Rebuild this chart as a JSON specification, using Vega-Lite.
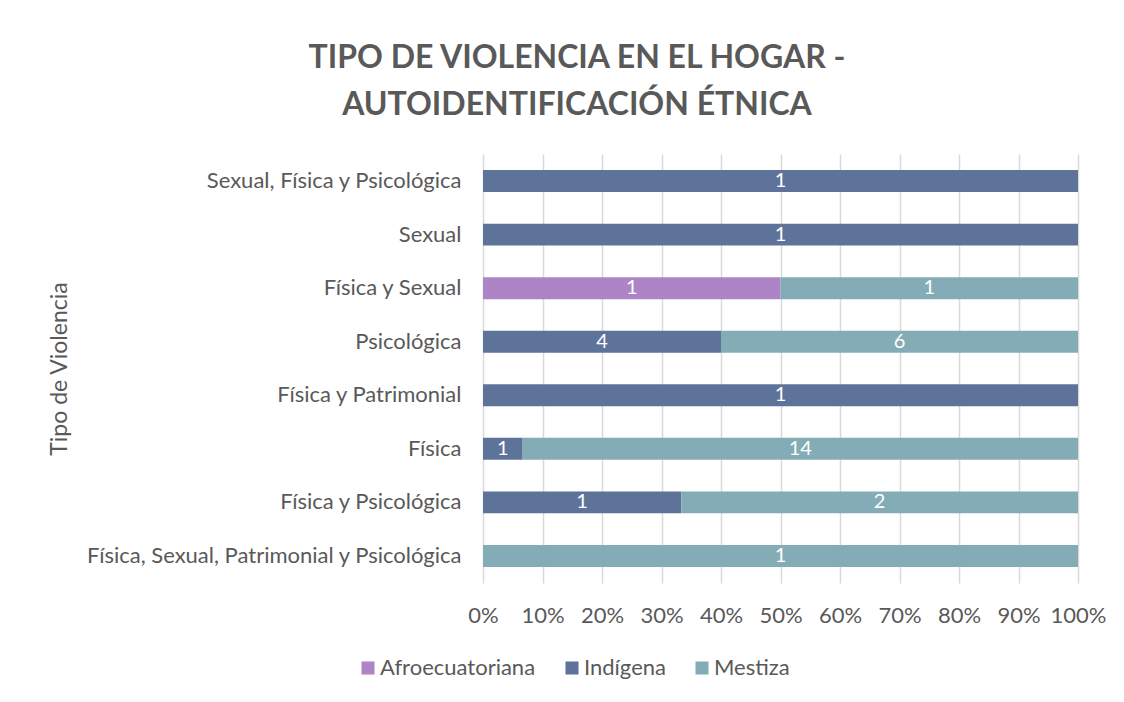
{
  "$schema": "https://vega.github.io/schema/vega-lite/v6.json",
  "width": 595,
  "height": 429,
  "padding": {"left": 48, "top": 42, "right": 18, "bottom": 18},
  "background": "white",
  "title": {
    "text": ["TIPO DE VIOLENCIA EN EL HOGAR -", "AUTOIDENTIFICACIÓN ÉTNICA"],
    "font": "Lato",
    "fontSize": 32,
    "fontWeight": "bold",
    "color": "#595959",
    "anchor": "middle",
    "frame": "bounds",
    "lineHeight": 47,
    "offset": 32
  },
  "data": {
    "values": [
      {"tipo": "Sexual, Física y Psicológica", "etnia": "Indígena", "n": 1},
      {"tipo": "Sexual ", "etnia": "Indígena", "n": 1},
      {"tipo": "Física y Sexual", "etnia": "Afroecuatoriana", "n": 1},
      {"tipo": "Física y Sexual", "etnia": "Mestiza", "n": 1},
      {"tipo": "Psicológica", "etnia": "Indígena", "n": 4},
      {"tipo": "Psicológica", "etnia": "Mestiza", "n": 6},
      {"tipo": "Física y Patrimonial", "etnia": "Indígena", "n": 1},
      {"tipo": "Física", "etnia": "Indígena", "n": 1},
      {"tipo": "Física", "etnia": "Mestiza", "n": 14},
      {"tipo": "Física y Psicológica", "etnia": "Indígena", "n": 1},
      {"tipo": "Física y Psicológica", "etnia": "Mestiza", "n": 2},
      {"tipo": "Física, Sexual, Patrimonial y Psicológica", "etnia": "Mestiza", "n": 1}
    ]
  },
  "encoding": {
    "y": {
      "field": "tipo",
      "type": "nominal",
      "sort": ["Sexual, Física y Psicológica", "Sexual ", "Física y Sexual", "Psicológica", "Física y Patrimonial", "Física", "Física y Psicológica", "Física, Sexual, Patrimonial y Psicológica"],
      "scale": {"paddingInner": 0.59, "paddingOuter": 0.3},
      "axis": {
        "title": "Tipo de Violencia",
        "titleFont": "Lato",
        "titleFontSize": 23,
        "titleFontWeight": "normal",
        "titleColor": "#595959",
        "titleX": -412,
        "labelFont": "Lato",
        "labelFontSize": 22,
        "labelColor": "#595959",
        "labelPadding": 22,
        "labelLimit": 600,
        "ticks": false,
        "domain": false,
        "grid": false
      }
    },
    "x": {
      "field": "n",
      "type": "quantitative",
      "stack": "normalize",
      "scale": {"domain": [0, 1]},
      "axis": {
        "title": null,
        "format": "%",
        "values": [0, 0.1, 0.2, 0.3, 0.4, 0.5, 0.6, 0.7, 0.8, 0.9, 1],
        "labelFont": "Lato",
        "labelFontSize": 22,
        "labelColor": "#595959",
        "labelPadding": 22,
        "labelOverlap": false,
        "labelFlush": false,
        "ticks": false,
        "domain": false,
        "grid": true,
        "gridColor": "#d9d9d9",
        "gridWidth": 1.5
      }
    }
  },
  "layer": [
    {
      "mark": {"type": "bar"},
      "encoding": {
        "color": {
          "field": "etnia",
          "type": "nominal",
          "scale": {
            "domain": ["Afroecuatoriana", "Indígena", "Mestiza"],
            "range": ["#AD84C6", "#5E7399", "#84ACB6"]
          },
          "legend": {
            "title": null,
            "orient": "none",
            "direction": "horizontal",
            "legendX": -126,
            "legendY": 503,
            "symbolType": "square",
            "symbolSize": 170,
            "symbolStrokeWidth": 0,
            "labelFont": "Lato",
            "labelFontSize": 22,
            "labelColor": "#595959",
            "columnPadding": 25,
            "labelOffset": 1
          }
        }
      }
    },
    {
      "mark": {"type": "text", "color": "white", "font": "Lato", "fontSize": 20, "baseline": "middle"},
      "encoding": {
        "x": {"field": "n", "type": "quantitative", "stack": "normalize", "bandPosition": 0.5},
        "text": {"field": "n", "type": "quantitative"},
        "detail": {"field": "etnia", "type": "nominal"}
      }
    }
  ],
  "config": {"view": {"stroke": null}}
}
